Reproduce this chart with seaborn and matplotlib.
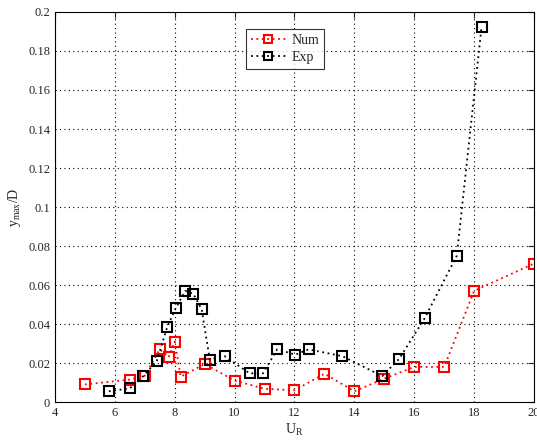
import pandas as pd
import seaborn as sns
import matplotlib.pyplot as plt

# data
num_ur = [5.0, 6.5, 7.0, 7.5, 7.8, 8.0, 8.2, 9.0, 10.0, 11.0, 12.0, 13.0, 14.0, 15.0, 16.0, 17.0, 18.0, 20.0]
num_y = [0.009, 0.0115, 0.0135, 0.027, 0.023, 0.031, 0.013, 0.0195, 0.011, 0.0068, 0.006, 0.0145, 0.0055, 0.012, 0.018, 0.018, 0.057, 0.071]

exp_ur = [5.8, 6.5, 6.95, 7.4, 7.75, 8.03, 8.35, 8.62, 8.9, 9.17, 9.67, 10.5, 10.95, 11.42, 12.03, 12.47, 13.6, 14.93, 15.5, 16.35, 17.42, 18.25]
exp_y = [0.0055, 0.007, 0.0133, 0.021, 0.0385, 0.048, 0.057, 0.0555, 0.0475, 0.0218, 0.0235, 0.0147, 0.0147, 0.027, 0.0243, 0.027, 0.0235, 0.0133, 0.0222, 0.043, 0.075, 0.1925]

num_df = pd.DataFrame({'UR': num_ur, 'y': num_y})
exp_df = pd.DataFrame({'UR': exp_ur, 'y': exp_y})

sns.set_style('white')
plt.rcParams['font.family'] = ['Liberation Serif', 'DejaVu Serif']
plt.rcParams['mathtext.fontset'] = 'custom'
plt.rcParams['mathtext.rm'] = 'Liberation Serif'
plt.rcParams['mathtext.it'] = 'Liberation Serif'

fig = plt.figure(figsize=(5.37, 4.41), dpi=100)
ax = fig.add_axes([0.1024, 0.0884, 0.892, 0.8844])

for d, c, lab in [(num_df, 'red', 'Num'), (exp_df, 'black', 'Exp')]:
    sns.lineplot(data=d, x='UR', y='y', color=c, label=lab, sort=False, estimator=None,
                 marker='s', markersize=6.5, markerfacecolor='none', markeredgecolor=c,
                 markeredgewidth=1.5, linestyle=(0, (1, 2)), linewidth=1.3, ax=ax)

ax.set_xlim(4, 20)
ax.set_ylim(0, 0.2)
ax.set_xticks(range(4, 21, 2))
ax.set_yticks([i * 0.02 for i in range(11)])
ax.set_yticklabels(['0', '0.02', '0.04', '0.06', '0.08', '0.1', '0.12', '0.14', '0.16', '0.18', '0.2'])
ax.grid(True, linestyle=(0, (1, 3)), color='black', linewidth=0.8)
ax.tick_params(direction='in', top=True, right=True, labelsize=9, length=4)
for s in ax.spines.values():
    s.set_color('black')
    s.set_linewidth(0.8)

ax.set_xlabel(r'$\mathregular{U_R}$', fontsize=10, labelpad=2)
ax.set_ylabel(r'$\mathregular{y_{max}/D}$', fontsize=10, labelpad=4)

leg = ax.legend(loc='upper left', bbox_to_anchor=(0.399, 0.956), fontsize=10, frameon=True,
                fancybox=False, edgecolor='black', handlelength=2.5, handletextpad=0.4,
                borderpad=0.35, labelspacing=0.3, borderaxespad=0, markerscale=0.85)
leg.get_frame().set_linewidth(0.8)

fig.savefig('out.png', dpi=100)
